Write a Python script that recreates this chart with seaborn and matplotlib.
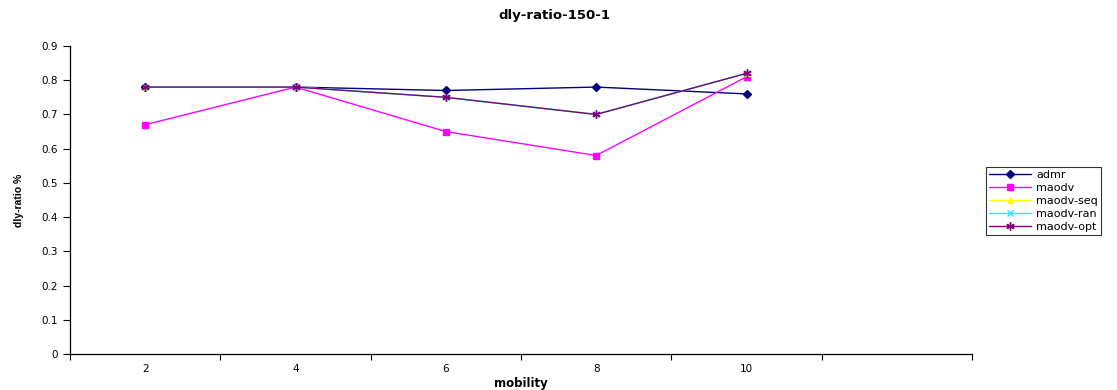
import matplotlib
matplotlib.use("Agg")
import matplotlib.pyplot as plt
import seaborn as sns
import pandas as pd
import numpy as np
from matplotlib.ticker import FixedLocator

# Mobility categories (sixth slot is left empty)
categories = ["2", "4", "6", "8", "10", ""]
mobility = ["2", "4", "6", "8", "10"]

admr = [0.78, 0.78, 0.77, 0.78, 0.76]
maodv = [0.67, 0.78, 0.65, 0.58, 0.81]
maodv_seq = [0.78, 0.78, 0.75, 0.70, 0.82]
maodv_ran = [0.78, 0.78, 0.75, 0.70, 0.82]
maodv_opt = [0.78, 0.78, 0.75, 0.70, 0.82]

y_ticks = [0, 0.1, 0.2, 0.3, 0.4, 0.5, 0.6, 0.7, 0.8, 0.9]
y_labels = ["0", "0.1", "0.2", "0.3", "0.4", "0.5", "0.6", "0.7", "0.8", "0.9"]

series = [
    ("admr", admr, "#000080", "D", 4, "#000080"),
    ("maodv", maodv, "#FF00FF", "s", 5, "#FF00FF"),
    ("maodv-seq", maodv_seq, "#FFFF00", "^", 5, "#FFFF00"),
    ("maodv-ran", maodv_ran, "#00FFFF", "x", 5, "#00FFFF"),
    ("maodv-opt", maodv_opt, "#800080", (6, 2, 0), 6, "#800080"),
]

sns.set_style("white")
plt.rcParams["font.family"] = ["DejaVu Sans"]
plt.rcParams.update({
    "text.color": "black",
    "axes.labelcolor": "black",
    "xtick.color": "black",
    "ytick.color": "black",
})

fig = plt.figure(figsize=(11.17, 3.90), dpi=100)
ax = fig.add_axes([70 / 1117, 1 - 354 / 390, (972 - 70) / 1117, (354 - 46) / 390])

pos = {c: i for i, c in enumerate(categories)}
for name, vals, color, marker, ms, mfc in series:
    df = pd.DataFrame({"x": [pos[m] for m in mobility], "y": vals})
    sns.lineplot(data=df, x="x", y="y", ax=ax, color=color, marker=marker,
                 markersize=ms, markerfacecolor=mfc, markeredgecolor=color,
                 markeredgewidth=1, linewidth=1, label=name)

ax.set_xlim(-0.5, len(categories) - 0.5)
ax.set_ylim(0, 0.9)
ax.set_xticks(range(len(categories)))
ax.set_xticklabels(categories, fontsize=7.5)
ax.xaxis.set_minor_locator(FixedLocator(np.arange(-0.5, len(categories), 1.0)))
ax.tick_params(axis="x", which="major", length=0, pad=7)
ax.tick_params(axis="x", which="minor", length=4, width=0.8, color="black", direction="out", bottom=True)
ax.set_yticks(y_ticks)
ax.set_yticklabels(y_labels, fontsize=7.5)
ax.tick_params(axis="y", length=5, width=0.8, color="black", direction="out", left=True, pad=4)

for side in ["top", "right"]:
    ax.spines[side].set_visible(False)
for side in ["left", "bottom"]:
    ax.spines[side].set_color("black")
    ax.spines[side].set_linewidth(0.9)

ax.set_xlabel("mobility", fontsize=8.5, fontweight="bold", labelpad=2)
ax.set_ylabel("dly-ratio %", fontsize=7.5, fontweight="bold", labelpad=12,
              family=["Liberation Sans", "DejaVu Sans"])
fig.suptitle("dly-ratio-150-1", x=554 / 1117, y=0.978, fontsize=9.5, fontweight="bold")

leg = ax.legend(loc="upper left", bbox_to_anchor=(986 / 1117, 1 - 167 / 390),
                bbox_transform=fig.transFigure, fontsize=8, frameon=True,
                fancybox=False, edgecolor="black", borderpad=0.25, labelspacing=0.28,
                handlelength=3.8, handletextpad=0.45, borderaxespad=0)
leg.get_frame().set_linewidth(0.8)

fig.savefig("out.png", dpi=100, facecolor="white")
